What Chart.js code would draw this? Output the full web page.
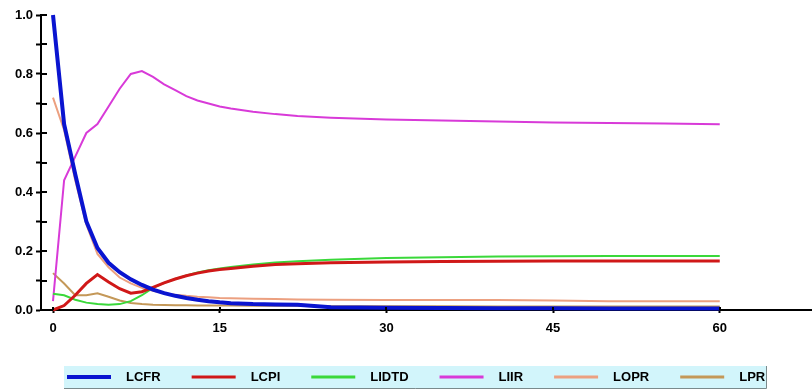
<!DOCTYPE html>
<html>
<head>
<meta charset="utf-8">
<script src="https://cdn.jsdelivr.net/npm/chart.js@4/dist/chart.umd.min.js"></script>
<style>
  html, body { margin: 0; padding: 0; background: #ffffff; }
  #wrap { width: 812px; height: 392px; position: relative; }
</style>
</head>
<body>
<div id="wrap"><canvas id="c" width="812" height="392"></canvas></div>
<script>
// time steps shared by all series
const t = [0, 1, 2, 3, 4, 5, 6, 7, 8, 9, 10, 11, 12, 13, 14, 15,
           16, 18, 20, 22, 25, 30, 35, 40, 45, 50, 55, 60];

const LCFR  = [1.0, 0.63, 0.46, 0.30, 0.21, 0.16, 0.128, 0.104, 0.085, 0.069, 0.057, 0.048, 0.041, 0.035, 0.030, 0.026,
               0.023, 0.020, 0.019, 0.018, 0.009, 0.008, 0.007, 0.006, 0.006, 0.005, 0.005, 0.005];
const LCPI  = [0.0, 0.015, 0.05, 0.09, 0.12, 0.095, 0.072, 0.057, 0.062, 0.077, 0.092, 0.105, 0.116, 0.125, 0.132, 0.137,
               0.141, 0.148, 0.154, 0.157, 0.160, 0.163, 0.164, 0.165, 0.166, 0.166, 0.166, 0.166];
const LIDTD = [0.055, 0.05, 0.035, 0.025, 0.02, 0.018, 0.02, 0.03, 0.05, 0.075, 0.092, 0.105, 0.117, 0.127, 0.135, 0.141,
               0.146, 0.154, 0.161, 0.165, 0.170, 0.176, 0.179, 0.181, 0.182, 0.183, 0.183, 0.183];
const LIIR  = [0.03, 0.44, 0.52, 0.60, 0.63, 0.69, 0.75, 0.80, 0.81, 0.79, 0.765, 0.745, 0.725, 0.71, 0.70, 0.69,
               0.683, 0.672, 0.664, 0.658, 0.652, 0.646, 0.642, 0.639, 0.636, 0.634, 0.632, 0.630];
const LOPR  = [0.72, 0.61, 0.44, 0.29, 0.19, 0.145, 0.11, 0.09, 0.075, 0.065, 0.057, 0.052, 0.048, 0.045, 0.043, 0.041,
               0.040, 0.038, 0.037, 0.036, 0.035, 0.034, 0.034, 0.034, 0.032, 0.030, 0.030, 0.030];
const LPR   = [0.125, 0.09, 0.05, 0.05, 0.057, 0.045, 0.032, 0.024, 0.02, 0.018, 0.017, 0.016, 0.016, 0.015, 0.015, 0.015,
               0.015, 0.014, 0.014, 0.014, 0.013, 0.013, 0.013, 0.012, 0.012, 0.012, 0.012, 0.012];

const seriesNames = ['LCFR', 'LCPI', 'LIDTD', 'LIIR', 'LOPR', 'LPR'];
const seriesData  = [LCFR, LCPI, LIDTD, LIIR, LOPR, LPR];
const seriesColors = ['#0a14d0', '#d01818', '#3ad83a', '#d83ad8', '#eca080', '#c49858'];
const seriesWidths = [4, 3, 2, 2, 2, 2];

const xTickValues = [0, 15, 30, 45, 60];

const FONT = '"Liberation Sans", Arial, sans-serif';

const datasets = seriesNames.map((name, i) => ({
  label: name,
  data: t.map((x, k) => ({ x: x, y: seriesData[i][k] })),
  borderColor: seriesColors[i],
  backgroundColor: seriesColors[i],
  borderWidth: seriesWidths[i],
  pointRadius: 0,
  tension: 0,
  fill: false,
  clip: false
}));

// tick marks that continue inside the plot, across the axis lines
const innerTicks = {
  id: 'innerTicks',
  afterDraw(chart) {
    const ctx = chart.ctx;
    const xs = chart.scales.x, ys = chart.scales.y;
    ctx.save();
    ctx.strokeStyle = '#000';
    ctx.lineWidth = 2;
    ys.ticks.forEach(tk => {
      const py = Math.round(ys.getPixelForValue(tk.value));
      ctx.beginPath();
      ctx.moveTo(xs.left, py);
      ctx.lineTo(xs.left + 6, py);
      ctx.stroke();
    });
    xs.ticks.forEach(tk => {
      const px = Math.round(xs.getPixelForValue(tk.value));
      ctx.beginPath();
      ctx.moveTo(px, ys.bottom);
      ctx.lineTo(px, ys.bottom - 3);
      ctx.stroke();
    });
    ctx.restore();
  }
};

// legend panel below the x axis
const panelLegend = {
  id: 'panelLegend',
  afterDraw(chart) {
    const ctx = chart.ctx;
    const top = 366, bottom = 388, left = 64, right = 766;
    ctx.save();
    ctx.fillStyle = '#d2f5fb';
    ctx.fillRect(left, top, right - left, bottom - top);
    ctx.strokeStyle = '#7a8a8c';
    ctx.lineWidth = 1;
    ctx.beginPath();
    ctx.moveTo(left, bottom + 0.5);
    ctx.lineTo(right + 0.5, bottom + 0.5);
    ctx.lineTo(right + 0.5, top);
    ctx.stroke();
    ctx.font = 'bold 13px ' + FONT;
    ctx.textBaseline = 'middle';
    ctx.fillStyle = '#000';
    const cy = 377;
    let x = 67;
    seriesNames.forEach((name, i) => {
      ctx.strokeStyle = seriesColors[i];
      ctx.lineWidth = i === 0 ? 4 : 3;
      ctx.beginPath();
      ctx.moveTo(x, cy);
      ctx.lineTo(x + 44, cy);
      ctx.stroke();
      ctx.fillText(name, x + 59, cy);
      x += 59 + ctx.measureText(name).width + 31;
    });
    ctx.restore();
  }
};

new Chart(document.getElementById('c'), {
  type: 'line',
  data: { datasets },
  plugins: [innerTicks, panelLegend],
  options: {
    responsive: false,
    animation: false,
    events: [],
    layout: { padding: { top: 15, right: 0, left: 0, bottom: 0 } },
    plugins: { legend: { display: false }, tooltip: { enabled: false } },
    scales: {
      x: {
        type: 'linear',
        min: -1.08,
        max: 68.3,
        afterBuildTicks: (scale) => { scale.ticks = xTickValues.map(v => ({ value: v })); },
        afterFit: (scale) => { scale.height = 82; },
        border: { display: true, color: '#000', width: 2 },
        grid: { display: true, drawOnChartArea: false, drawTicks: true, tickLength: 3, tickColor: '#000', tickWidth: 2 },
        ticks: {
          color: '#000',
          font: { family: FONT, size: 13, weight: 'bold' },
          padding: 8,
          maxRotation: 0,
          autoSkip: false,
          callback: (v) => String(v)
        }
      },
      y: {
        type: 'linear',
        min: 0,
        max: 1,
        afterFit: (scale) => { scale.width = 41; },
        border: { display: true, color: '#000', width: 2 },
        grid: { display: true, drawOnChartArea: false, drawTicks: true, tickLength: 5, tickColor: '#000', tickWidth: 2 },
        ticks: {
          stepSize: 0.1,
          color: '#000',
          font: { family: FONT, size: 13, weight: 'bold' },
          padding: 3,
          autoSkip: false,
          callback: (v) => (Math.round(v * 10) % 2 === 0 ? v.toFixed(1) : '')
        }
      }
    }
  }
});
</script>
</body>
</html>
